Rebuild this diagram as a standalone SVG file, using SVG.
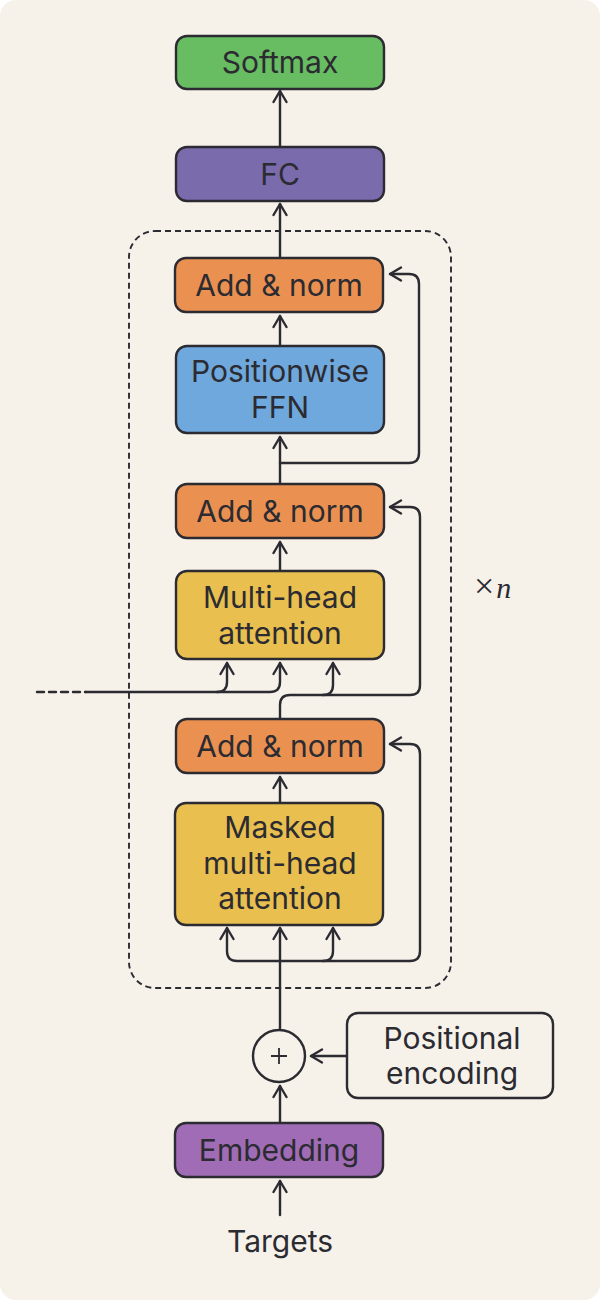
<svg xmlns="http://www.w3.org/2000/svg" width="601" height="1301" viewBox="0 0 601 1301">
<style>
.box{stroke:#2b2b31;stroke-width:2.4}
.t{font-family:Inter,'Liberation Sans',sans-serif;font-size:30px;font-weight:400;fill:#2b2b31;text-anchor:middle}
.c{fill:none;stroke:#2b2b31;stroke-width:2.4;stroke-linecap:round;stroke-linejoin:round}
.a{marker-end:url(#arr)}
</style>
<defs>
<marker id="arr" markerUnits="userSpaceOnUse" orient="auto" markerWidth="20" markerHeight="20" refX="0" refY="0" viewBox="-12 -10 14 20" overflow="visible">
<path d="M-11,-6.5 L0,0 L-11,6.5" fill="none" stroke="#2b2b31" stroke-width="2.4" stroke-linecap="round" stroke-linejoin="round"/>
</marker>
</defs>
<rect x="0" y="0" width="601" height="1301" fill="#ffffff"/>
<rect x="0" y="0" width="600" height="1300" rx="16" fill="#f6f2ea"/>

<g id="encoder-block">
<rect x="129" y="231" width="322" height="757" rx="26" fill="none" stroke="#2b2b31" stroke-width="1.9" stroke-dasharray="6,4"/>
<text x="474" y="598" font-family="'Liberation Serif',serif" font-size="30" fill="#2b2b31"><tspan font-size="36">×</tspan><tspan font-style="italic" dx="2">n</tspan></text>
</g>

<g id="connectors">
<path class="c a" d="M280,147 L280,91"/>
<path class="c a" d="M280,258 L280,204"/>
<path class="c a" d="M280,346 L280,316"/>
<path class="c a" d="M280,484 L280,437"/>
<path class="c a" d="M280,463 L409,463 Q419,463 419,453 L419,284 Q419,274 409,274 L390,274"/>
<path class="c a" d="M280,571 L280,542"/>
<path class="c a" d="M280,719 L280,705 Q280,695 290,695 L410,695 Q420,695 420,685 L420,517 Q420,507 410,507 L390,507"/>
<path class="c a" d="M323,695 Q333,695 333,685 L333,663"/>
<path class="c" d="M37,692 L86,692" stroke-dasharray="7,5" stroke-linecap="butt"/>
<path class="c a" d="M86,692 L270,692 Q280,692 280,682 L280,663"/>
<path class="c a" d="M217,692 Q227,692 227,682 L227,663"/>
<path class="c a" d="M280,803 L280,777"/>
<path class="c a" d="M280,1029 L280,928"/>
<path class="c a" d="M280,961 L237,961 Q227,961 227,951 L227,928"/>
<path class="c a" d="M280,961 L410,961 Q420,961 420,951 L420,754 Q420,744 410,744 L390,744"/>
<path class="c a" d="M323,961 Q333,961 333,951 L333,928"/>
<path class="c a" d="M347,1056 L311,1056"/>
<path class="c a" d="M280,1123 L280,1086"/>
<path class="c a" d="M280,1215 L280,1181"/>
</g>

<g id="softmax">
<rect class="box" x="176" y="36" width="208" height="53" rx="11" fill="#68bc62"/>
<text class="t" x="280" y="73">Softmax</text>
</g>
<g id="fc">
<rect class="box" x="176" y="147" width="208" height="54" rx="11" fill="#7a6bad"/>
<text class="t" x="280" y="185">FC</text>
</g>
<g id="addnorm1">
<rect class="box" x="175" y="258" width="208" height="54" rx="11" fill="#ea9152"/>
<text class="t" x="279" y="296">Add &amp; norm</text>
</g>
<g id="ffn">
<rect class="box" x="176" y="346" width="208" height="87" rx="11" fill="#6fa8dc"/>
<text class="t" x="280" y="382">Positionwise</text>
<text class="t" x="280" y="418">FFN</text>
</g>
<g id="addnorm2">
<rect class="box" x="176" y="484" width="208" height="54" rx="11" fill="#ea9152"/>
<text class="t" x="280" y="522">Add &amp; norm</text>
</g>
<g id="mha">
<rect class="box" x="176" y="571" width="208" height="88" rx="11" fill="#e9bf4f"/>
<text class="t" x="280" y="608">Multi-head</text>
<text class="t" x="280" y="644">attention</text>
</g>
<g id="addnorm3">
<rect class="box" x="176" y="719" width="208" height="54" rx="11" fill="#ea9152"/>
<text class="t" x="280" y="757">Add &amp; norm</text>
</g>
<g id="masked-mha">
<rect class="box" x="175" y="803" width="208" height="122" rx="11" fill="#e9bf4f"/>
<text class="t" x="280" y="838">Masked</text>
<text class="t" x="280" y="874">multi-head</text>
<text class="t" x="280" y="909">attention</text>
</g>
<g id="plus">
<circle class="box" cx="279" cy="1056" r="26" fill="#f6f2ea"/>
<path d="M271,1056 L287,1056 M279,1048 L279,1064" stroke="#2b2b31" stroke-width="1.8"/>
</g>
<g id="positional-encoding">
<rect class="box" x="347" y="1013" width="206" height="85" rx="11" fill="#f6f2ea"/>
<text class="t" x="452" y="1049">Positional</text>
<text class="t" x="452" y="1084">encoding</text>
</g>
<g id="embedding">
<rect class="box" x="175" y="1123" width="208" height="54" rx="11" fill="#a06cb5"/>
<text class="t" x="279" y="1161">Embedding</text>
</g>
<g id="targets">
<text class="t" x="280" y="1252">Targets</text>
</g>
</svg>
